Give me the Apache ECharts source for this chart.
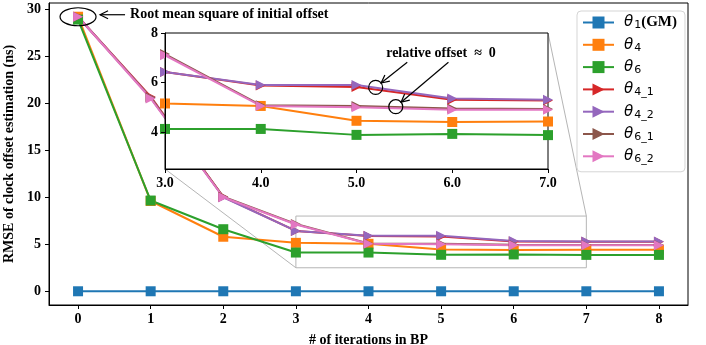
<!DOCTYPE html>
<html>
<head>
<meta charset="utf-8">
<title>RMSE vs BP iterations</title>
<script src="https://cdn.jsdelivr.net/npm/echarts@6/dist/echarts.min.js"></script>
<style>
  html, body { margin: 0; padding: 0; background: #fff; }
  #main { width: 706px; height: 345px; }
</style>
</head>
<body>
<div id="main"></div>
<script>
// data
var iterations = [0, 1, 2, 3, 4, 5, 6, 7, 8];
var gm   = [0, 0, 0, 0, 0, 0, 0, 0, 0];
var th4  = [29.2, 9.6, 5.8, 5.15, 5.05, 4.45, 4.4, 4.42, 4.42];
var th6  = [28.9, 9.65, 6.6, 4.12, 4.12, 3.88, 3.92, 3.87, 3.87];
var th41 = [29.2, 20.7, 10.05, 6.42, 5.88, 5.82, 5.3, 5.27, 5.27];
var th42 = [29.2, 20.6, 10.0, 6.42, 5.9, 5.9, 5.35, 5.3, 5.3];
var th61 = [29.2, 20.6, 10.05, 7.15, 5.08, 5.05, 4.95, 4.93, 4.93];
var th62 = [29.2, 20.5, 10.0, 7.1, 5.05, 5.0, 4.9, 4.9, 4.9];
var xTicks = [0, 1, 2, 3, 4, 5, 6, 7, 8];
var yTicks = [0, 5, 10, 15, 20, 25, 30];
var zoomX = [3, 7];
var zoomY = [2.5, 8];
var insetYTicks = [4, 6, 8];
var names = ['θ1(GM)', 'θ4', 'θ6', 'θ4_1', 'θ4_2', 'θ6_1', 'θ6_2'];

var serif = 'Liberation Serif';
var chart = echarts.init(document.getElementById('main'));

function pts(arr) {
  return arr.map(function (v, i) { return [iterations[i], v]; });
}

var styles = [
  { d: gm,   c: '#1f77b4', s: 'rect' },
  { d: th4,  c: '#ff7f0e', s: 'rect' },
  { d: th6,  c: '#2ca02c', s: 'rect' },
  { d: th41, c: '#d62728', s: 'triangle' },
  { d: th42, c: '#9467bd', s: 'triangle' },
  { d: th61, c: '#8c564b', s: 'triangle' },
  { d: th62, c: '#e377c2', s: 'triangle' }
];

var series = [];
// main plot
styles.forEach(function (st, i) {
  series.push({
    name: names[i], type: 'line', xAxisIndex: 0, yAxisIndex: 0,
    data: pts(st.d), symbol: st.s, symbolSize: 10,
    symbolRotate: st.s == 'triangle' ? -90 : 0,
    lineStyle: { color: st.c, width: 2 }, itemStyle: { color: st.c },
    z: 2
  });
});
// zoom rectangle on main plot
series.push({
  type: 'line', xAxisIndex: 0, yAxisIndex: 0, silent: true,
  data: [[zoomX[0], zoomY[0]], [zoomX[1], zoomY[0]], [zoomX[1], zoomY[1]], [zoomX[0], zoomY[1]], [zoomX[0], zoomY[0]]],
  symbol: 'none', lineStyle: { color: '#b5b5b5', width: 1 }, z: 1
});
// inset
styles.forEach(function (st, i) {
  series.push({
    name: names[i], type: 'line', xAxisIndex: 1, yAxisIndex: 1,
    data: pts(st.d), symbol: st.s, symbolSize: 10,
    symbolRotate: st.s == 'triangle' ? -90 : 0,
    lineStyle: { color: st.c, width: 2 }, itemStyle: { color: st.c },
    clip: true, z: 6
  });
});

var tickLabel = { fontFamily: serif, fontWeight: 'bold', fontSize: 14, color: '#000' };

chart.setOption({
  animation: false,
  backgroundColor: '#fff',
  grid: [
    { left: 49, right: 18, top: 3, bottom: 40, show: true, borderColor: '#000', borderWidth: 1, outerBoundsMode: 'none' },
    { left: 165, right: 158, top: 33, bottom: 176, outerBoundsMode: 'none' }
  ],
  xAxis: [
    {
      type: 'value', gridIndex: 0, min: -0.4, max: 8.4,
      name: '# of iterations in BP', nameLocation: 'middle', nameGap: 28,
      nameTextStyle: { fontFamily: serif, fontWeight: 'bold', fontSize: 14, color: '#000' },
      axisLine: { onZero: false, lineStyle: { color: '#000' } },
      axisTick: { customValues: xTicks, length: 4, lineStyle: { color: '#000' } },
      axisLabel: Object.assign({ customValues: xTicks, margin: 7 }, tickLabel),
      splitLine: { show: false }
    },
    {
      type: 'value', gridIndex: 1, min: zoomX[0], max: zoomX[1], interval: 1, z: 8,
      axisLine: { onZero: false, lineStyle: { color: '#000' } },
      axisTick: { length: 4, lineStyle: { color: '#000' } },
      axisLabel: Object.assign({ margin: 7, formatter: function (v) { return v.toFixed(1); } }, tickLabel),
      splitLine: { show: false }
    }
  ],
  yAxis: [
    {
      type: 'value', gridIndex: 0, min: -1.46, max: 30.66,
      name: 'RMSE of clock offset estimation (ns)', nameLocation: 'middle', nameGap: 29,
      nameTextStyle: { fontFamily: serif, fontWeight: 'bold', fontSize: 14, color: '#000' },
      axisLine: { onZero: false, lineStyle: { color: '#000' } },
      axisTick: { customValues: yTicks, length: 4, lineStyle: { color: '#000' } },
      axisLabel: Object.assign({ customValues: yTicks, margin: 8 }, tickLabel),
      splitLine: { show: false }
    },
    {
      type: 'value', gridIndex: 1, min: zoomY[0], max: zoomY[1], z: 8,
      axisLine: { onZero: false, lineStyle: { color: '#000' } },
      axisTick: { customValues: insetYTicks, length: 4, lineStyle: { color: '#000' } },
      axisLabel: Object.assign({ customValues: insetYTicks, margin: 7 }, tickLabel),
      splitLine: { show: false }
    }
  ],
  legend: {
    data: names, orient: 'vertical', left: 577, top: 11, z: 20,
    itemWidth: 31, itemHeight: 15, itemGap: 5.3,
    padding: [3, 8, 7, 5],
    backgroundColor: 'rgba(255,255,255,0.85)', borderColor: '#d5d5d5', borderWidth: 1, borderRadius: 4,
    symbolRotate: 'inherit',
    formatter: function (n) {
      var sub = n.slice(1).replace('(GM)', '');
      var s = '{t|θ}{s|' + sub + '}';
      if (n.indexOf('(GM)') >= 0) s += '{b|(GM)}';
      return s;
    },
    textStyle: {
      padding: [0, 0, 0, 5],
      rich: {
        t: { fontFamily: 'DejaVu Sans', fontStyle: 'italic', fontSize: 15, color: '#000', lineHeight: 18 },
        s: { fontFamily: 'DejaVu Sans', fontSize: 11, color: '#000', lineHeight: 12, padding: [6, 0, 0, 1] },
        b: { fontFamily: serif, fontWeight: 'bold', fontSize: 15, color: '#000', lineHeight: 18 }
      }
    }
  },
  series: series
});

// inset box, connector lines, annotations
function px(g, v) {
  return g == 0 ? chart.convertToPixel({ xAxisIndex: 0, yAxisIndex: 0 }, v)
                : chart.convertToPixel({ xAxisIndex: 1, yAxisIndex: 1 }, v);
}
function arrow(x1, y1, x2, y2) {
  var a = Math.atan2(y2 - y1, x2 - x1), L = 8, W = 4;
  var bx = x2 - L * Math.cos(a), by = y2 - L * Math.sin(a);
  return [
    { type: 'line', z: 30, shape: { x1: x1, y1: y1, x2: x2, y2: y2 }, style: { stroke: '#000', lineWidth: 1.2 } },
    { type: 'polyline', z: 30, shape: { points: [
        [bx + W * Math.sin(a), by - W * Math.cos(a)], [x2, y2], [bx - W * Math.sin(a), by + W * Math.cos(a)]
      ] }, style: { stroke: '#000', lineWidth: 1.2, fill: null } }
  ];
}

var ibl = px(1, [zoomX[0], zoomY[0]]), itr = px(1, [zoomX[1], zoomY[1]]);
var mbl = px(0, [zoomX[0], zoomY[0]]), mtr = px(0, [zoomX[1], zoomY[1]]);
var p0 = px(0, [0, 29.2]);
var c1 = px(1, [5.2, 5.8]), c2 = px(1, [5.41, 5.02]);
var t1 = px(1, [5.53, 6.82]), t2 = px(1, [5.96, 6.82]);
var tl = px(1, [5.31, 7.18]);

function toward(c, t, r) {
  var dx = t[0] - c[0], dy = t[1] - c[1], d = Math.sqrt(dx * dx + dy * dy);
  return [c[0] + dx / d * r, c[1] + dy / d * r];
}
var h1 = toward(c1, t1, 7), h2 = toward(c2, t2, 7);

var els = [
  { type: 'line', z: 1, shape: { x1: mbl[0], y1: mbl[1], x2: ibl[0], y2: ibl[1] }, style: { stroke: '#b5b5b5', lineWidth: 1 } },
  { type: 'line', z: 1, shape: { x1: mtr[0], y1: mtr[1], x2: itr[0], y2: itr[1] }, style: { stroke: '#b5b5b5', lineWidth: 1 } },
  { type: 'rect', z: 4, shape: { x: ibl[0], y: itr[1], width: itr[0] - ibl[0], height: ibl[1] - itr[1] },
    style: { fill: '#fff', stroke: '#000', lineWidth: 1 } },
  { type: 'ellipse', z: 30, shape: { cx: p0[0], cy: p0[1], rx: 18, ry: 9 }, style: { fill: null, stroke: '#000', lineWidth: 1.2 } },
  { type: 'text', z: 30, style: { x: p0[0] + 52, y: p0[1] - 2, text: 'Root mean square of initial offset',
    font: 'bold 14px "Liberation Serif"', fill: '#000', verticalAlign: 'middle' } },
  { type: 'circle', z: 30, shape: { cx: c1[0], cy: c1[1], r: 7 }, style: { fill: null, stroke: '#000', lineWidth: 1.2 } },
  { type: 'circle', z: 30, shape: { cx: c2[0], cy: c2[1], r: 7 }, style: { fill: null, stroke: '#000', lineWidth: 1.2 } },
  { type: 'text', z: 30, style: { x: tl[0], y: tl[1], text: 'relative offset  ≈  0',
    font: 'bold 14px "Liberation Serif"', fill: '#000', verticalAlign: 'middle' } }
];
els = els.concat(arrow(p0[0] + 47, p0[1] - 2, p0[0] + 22, p0[1] - 2));
els = els.concat(arrow(t1[0], t1[1], h1[0], h1[1]));
els = els.concat(arrow(t2[0], t2[1], h2[0], h2[1]));

chart.setOption({ graphic: { elements: els } });
</script>
</body>
</html>
